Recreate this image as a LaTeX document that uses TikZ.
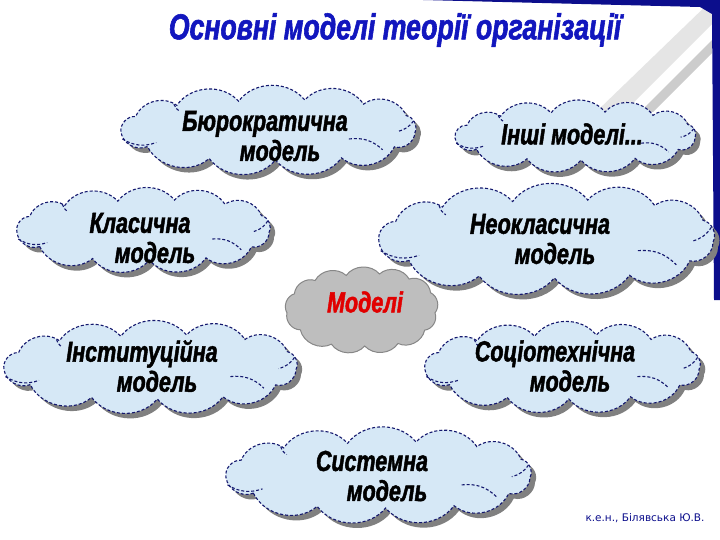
\documentclass[tikz,border=0pt]{standalone}
\usepackage{fontspec}
\setmainfont{Liberation Sans}
\newfontfamily\heavy{Liberation Sans}[FakeStretch=0.74,FakeBold=1.6]
\newfontfamily\footfont{DejaVu Sans}
\definecolor{cloudfill}{RGB}{214,232,246}
\definecolor{cloudline}{RGB}{20,24,110}
\definecolor{titleblue}{RGB}{18,22,190}
\definecolor{navy}{RGB}{12,14,140}
\definecolor{greyfill}{RGB}{190,190,190}
\definecolor{greyline}{RGB}{135,135,135}
\definecolor{shadowgrey}{RGB}{128,128,128}
\definecolor{modred}{RGB}{225,0,0}
\tikzset{
  bluecloud/.style={draw=cloudline, fill=cloudfill, line width=1.1pt, dash pattern=on 3pt off 2pt},
  greycloud/.style={draw=greyline, fill=greyfill, line width=1pt},
  cloudshade/.style={fill=shadowgrey},
  innerline/.style={draw=cloudline, line width=1.1pt, dash pattern=on 3pt off 2pt},
  cloudtext/.style={font=\heavy\bfseries\itshape\fontsize{29}{30}\selectfont, text=black, align=center, inner sep=0pt},
}
% #1 style, #2 cx, #3 cy, #4 half width, #5 half height
\newcommand\cloudoutline[5]{%
  \path[#1] ({#2+(-0.82)*#4},{#3+0.55*#5})
    \foreach \u/\v in {-1/0.08, -0.9/-0.45, -0.62/-0.82, -0.2/-0.96, 0.25/-1, 0.65/-0.86, 0.94/-0.48, 1/0.08, 0.86/0.56, 0.5/0.93, 0.05/1, -0.4/0.95, -0.82/0.55}
    { to[bend left=52] ({#2+\u*#4},{#3+\v*#5}) } -- cycle;}
\newcommand\mycloud[6]{% #1 name, #2 style, #3 cx, #4 cy, #5 a, #6 b
  \coordinate (#1) at (#3,#4);
  \begin{scope}[shift={(5,5)}]\cloudoutline{cloudshade}{#3}{#4}{#5}{#6}\end{scope}
  \cloudoutline{#2}{#3}{#4}{#5}{#6}
  \draw[innerline] ({#3-0.99*#5},{#4+0.3*#6}) to[bend right=25] ({#3-0.76*#5},{#4+0.42*#6});
  \draw[innerline] ({#3+0.55*#5},{#4+0.3*#6}) to[bend left=25] ({#3+0.78*#5},{#4+0.66*#6});
  \draw[innerline] ({#3+0.99*#5},{#4-0.3*#6}) to[bend left=20] ({#3+0.88*#5},{#4+0.05*#6});
  \draw[innerline] ({#3-0.64*#5},{#4-0.86*#6}) to[bend right=20] ({#3-0.6*#5},{#4-0.62*#6});
}
\begin{document}
\begin{tikzpicture}[x=1pt,y=-1pt]
\useasboundingbox (0,0) rectangle (720,540);
\fill[white] (0,0) rectangle (720,540);
% decorative corner
\fill[black!10] (596,112) -- (624,112) -- (712,24) -- (712,0) -- cycle;
\fill[black!20] (640,112) -- (653,112) -- (712,53) -- (712,40) -- cycle;
\fill[navy] (423,0) -- (720,0) -- (720,300) -- (714,300) -- (712,14) -- (700,7) -- cycle;
% title
\node[font=\heavy\bfseries\itshape\fontsize{36}{37}\selectfont, text=titleblue] (title) at (395,30) {Основні моделі теорії організації};
% clouds
\mycloud{c1}{bluecloud}{268}{130}{147}{30}
\mycloud{c2}{bluecloud}{575}{136}{120}{24}
\mycloud{c3}{bluecloud}{143}{230}{126}{30}
\mycloud{c4}{bluecloud}{546}{239}{167}{39}
\mycloud{c6}{bluecloud}{150}{367}{146}{32}
\mycloud{c7}{bluecloud}{562}{367}{137}{32}
\mycloud{c8}{bluecloud}{378}{475}{152}{33}
\coordinate (c5) at (361,310);
\cloudoutline{greycloud}{361}{310}{74}{36}
% texts
\node[cloudtext] (t1) at (265,136) {Бюрократична\\\hspace*{30pt}модель};
\node[cloudtext] (t2) at (572,134) {Інші моделі...};
\node[cloudtext] (t3) at (140,238) {Класична\\\hspace*{30pt}модель};
\node[cloudtext] (t4) at (540,239) {Неокласична\\\hspace*{30pt}модель};
\node[cloudtext, text=modred] (t5) at (365,302) {Моделі};
\node[cloudtext] (t6) at (142,366) {Інституційна\\\hspace*{30pt}модель};
\node[cloudtext] (t7) at (555,366) {Соціотехнічна\\\hspace*{30pt}модель};
\node[cloudtext] (t8) at (372,476) {Системна\\\hspace*{30pt}модель};
% footer
\node[font=\footfont\fontsize{10.5}{11}\selectfont, text=navy, inner sep=1pt] (foot) at (645,518) {к.е.н., Білявська Ю.В.};
\end{tikzpicture}
\end{document}
